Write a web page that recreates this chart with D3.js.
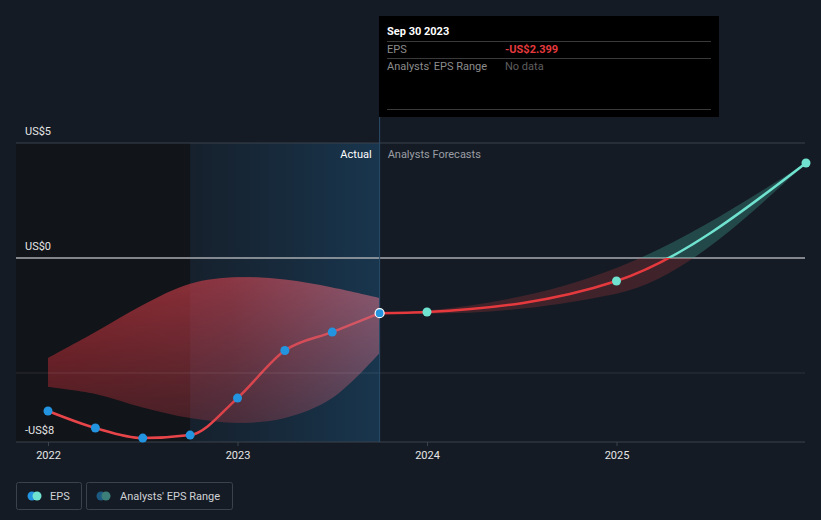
<!DOCTYPE html>
<html><head><meta charset="utf-8">
<script src="https://cdn.jsdelivr.net/npm/d3@7"></script>
<style>
html,body{margin:0;padding:0;background:#151b24;}
svg{display:block;font-family:Roboto,"Open Sans",sans-serif;}
</style></head>
<body><svg id="c" width="821" height="520"></svg>
<script>
// ---- data ----
const pastDates = [2022.0, 2022.25, 2022.5, 2022.75, 2023.0, 2023.25, 2023.5, 2023.75];
const pastEPS   = [-6.65, -7.39, -7.83, -7.70, -6.09, -4.02, -3.22, -2.399];
const pastRangeLow  = [-5.61, -5.91, -6.50, -6.96, -7.17, -6.96, -6.09, -4.13];
const pastRangeHigh = [-4.35, -3.22, -2.04, -1.12, -0.83, -0.94, -1.28, -1.74];
const fcDates = [2023.75, 2024.0, 2025.0, 2026.0];
const fcEPS   = [-2.399, -2.35, -1.0, 4.13];
const fcLow   = [-2.399, -2.42, -1.55, 4.13];
const fcHigh  = [-2.399, -2.28, -0.43, 4.13];
const yTickVals = [5, 0, -8];
const yTickLabels = ["US$5", "US$0", "-US$8"];
const xTickVals = [2022, 2023, 2024, 2025];
const xTickLabels = ["2022", "2023", "2024", "2025"];
const tooltipDate = "Sep 30 2023";
const tooltipEPS = "-US$2.399";
const tooltipRange = "No data";

const svg = d3.select("#c");
const x = d3.scaleLinear().domain([2022, 2026]).range([48, 806]);
const y = d3.scaleLinear().domain([-8, 5]).range([442, 143]);
const left = 16, right = 805;
const nowX = x(2023.75);

const defs = svg.append("defs");
const hl = defs.append("linearGradient").attr("id","hl").attr("x1",0).attr("x2",1).attr("y1",0).attr("y2",0);
hl.append("stop").attr("offset","0%").attr("stop-color","#1f5f8f").attr("stop-opacity",0.08);
hl.append("stop").attr("offset","100%").attr("stop-color","#1f6aa0").attr("stop-opacity",0.34);

// area colour (horizontal hue) + vertical opacity mask
const rg = defs.append("linearGradient").attr("id","rg").attr("x1",0).attr("x2",1).attr("y1",0).attr("y2",0);
rg.append("stop").attr("offset","0%").attr("stop-color","#cc3038");
rg.append("stop").attr("offset","55%").attr("stop-color","#c2404c");
rg.append("stop").attr("offset","100%").attr("stop-color","#c46a80");
const mg = defs.append("linearGradient").attr("id","mg").attr("x1",0).attr("x2",0).attr("y1",0).attr("y2",1);
mg.append("stop").attr("offset","0%").attr("stop-color","#fff").attr("stop-opacity",0.68);
mg.append("stop").attr("offset","100%").attr("stop-color","#fff").attr("stop-opacity",0.3);

// colour split at zero for forecast
const zY = y(0);
const lg = defs.append("linearGradient").attr("id","lg").attr("gradientUnits","userSpaceOnUse")
  .attr("x1",0).attr("x2",0).attr("y1",y(5)).attr("y2",y(-8));
const zf = (zY - y(5)) / (y(-8) - y(5));
lg.append("stop").attr("offset",zf).attr("stop-color","#6fe3cf");
lg.append("stop").attr("offset",zf).attr("stop-color","#e5393d");
const bg = defs.append("linearGradient").attr("id","bg").attr("gradientUnits","userSpaceOnUse")
  .attr("x1",0).attr("x2",0).attr("y1",y(5)).attr("y2",y(-8));
bg.append("stop").attr("offset",zf).attr("stop-color","#3fa89a").attr("stop-opacity",0.32);
bg.append("stop").attr("offset",zf).attr("stop-color","#b8383d").attr("stop-opacity",0.26);

// past dark region
svg.append("rect").attr("x",left).attr("y",y(5)).attr("width",x(2022.75)-left).attr("height",y(-8)-y(5)).attr("fill","#111419");
// highlight
svg.append("rect").attr("x",x(2022.75)).attr("y",y(5)).attr("width",nowX-x(2022.75)).attr("height",y(-8)-y(5)).attr("fill","url(#hl)");

// gridlines
svg.append("line").attr("x1",left).attr("x2",right).attr("y1",y(5)).attr("y2",y(5)).attr("stroke","#3b424c").attr("stroke-width",1);
svg.append("line").attr("x1",left).attr("x2",right).attr("y1",y(-8)).attr("y2",y(-8)).attr("stroke","#3b424c").attr("stroke-width",1);

// y labels
svg.selectAll("text.yl").data(yTickVals).enter().append("text").attr("class","yl")
  .attr("x",25).attr("y",d=>y(d)-8).attr("fill","#e6e6e6").attr("font-size",11)
  .text((d,i)=>yTickLabels[i]);

// x axis
const xa = svg.append("g").attr("transform",`translate(0,${y(-8)})`)
  .call(d3.axisBottom(x).tickValues(xTickVals).tickFormat((d,i)=>xTickLabels[i]).tickSize(4).tickPadding(5));
xa.select(".domain").remove();
xa.selectAll(".tick line").attr("stroke","#3b424c");
xa.selectAll(".tick text").attr("fill","#e6e6e6").attr("font-size",11).attr("font-family","Roboto,sans-serif");

// past range area
const pastAreaGen = d3.area().curve(d3.curveCatmullRom.alpha(0.5)).x(d=>d[0]).y0(d=>d[1]).y1(d=>d[2]);
const area = d3.area().curve(d3.curveMonotoneX).x(d=>d[0]).y0(d=>d[1]).y1(d=>d[2]);
const pastArea = pastDates.map((d,i)=>[x(d), y(pastRangeLow[i]), y(pastRangeHigh[i])]);
const line = d3.line().curve(d3.curveMonotoneX);
const areaD = pastAreaGen(pastArea);
const mask = defs.append("mask").attr("id","am").attr("maskUnits","userSpaceOnUse")
  .attr("x",0).attr("y",0).attr("width",821).attr("height",520);
mask.append("rect").attr("x",x(2022)).attr("y",y(-0.83)).attr("width",nowX-x(2022)).attr("height",y(-7.17)-y(-0.83)).attr("fill","url(#mg)");

// eps past line (under area)
svg.append("path").attr("d", line(pastDates.map((d,i)=>[x(d),y(pastEPS[i])])))
  .attr("fill","none").attr("stroke","#e8454a").attr("stroke-width",2.5);
svg.append("path").attr("d", areaD).attr("fill","url(#rg)").attr("mask","url(#am)");
// -5 gridline over area
svg.append("line").attr("x1",left).attr("x2",right).attr("y1",y(-5)).attr("y2",y(-5)).attr("stroke","#ffffff").attr("stroke-opacity",0.1).attr("stroke-width",1);

// zero line
svg.append("line").attr("x1",left).attr("x2",right).attr("y1",zY).attr("y2",zY).attr("stroke","#a9acb0").attr("stroke-width",1.5);

// forecast band
const fcArea = fcDates.map((d,i)=>[x(d), y(fcLow[i]), y(fcHigh[i])]);
svg.append("path").attr("d", area(fcArea)).attr("fill","url(#bg)");
// forecast line
svg.append("path").attr("d", line(fcDates.map((d,i)=>[x(d),y(fcEPS[i])])))
  .attr("fill","none").attr("stroke","url(#lg)").attr("stroke-width",2.5);

// now line
svg.append("line").attr("x1",nowX).attr("x2",nowX).attr("y1",117).attr("y2",y(-8)).attr("stroke","#2a4d6b").attr("stroke-width",1);

// labels
svg.append("text").attr("x",nowX-8).attr("y",158).attr("text-anchor","end").attr("fill","#ffffff").attr("font-size",11).text("Actual");
svg.append("text").attr("x",nowX+8).attr("y",158).attr("fill","#9a9ea4").attr("font-size",11).text("Analysts Forecasts");

// points
svg.selectAll("circle.p").data(pastDates.slice(0,-1)).enter().append("circle").attr("class","p")
  .attr("cx",d=>x(d)).attr("cy",(d,i)=>y(pastEPS[i])).attr("r",4.5).attr("fill","#2394df");
svg.append("circle").attr("cx",nowX).attr("cy",y(pastEPS[pastEPS.length-1])).attr("r",4.5).attr("fill","#2394df").attr("stroke","#ffffff").attr("stroke-width",1.2);
svg.selectAll("circle.f").data(fcDates.slice(1)).enter().append("circle").attr("class","f")
  .attr("cx",d=>x(d)).attr("cy",(d,i)=>y(fcEPS[i+1])).attr("r",4.5).attr("fill","#6fe3cf");

// tooltip
const tt = svg.append("g");
tt.append("rect").attr("x",379).attr("y",16).attr("width",340).attr("height",101).attr("fill","#000000");
tt.append("text").attr("x",387).attr("y",35).attr("fill","#ffffff").attr("font-size",11).attr("font-weight","bold").text(tooltipDate);
[41,58,109].forEach(v=>tt.append("line").attr("x1",387).attr("x2",711).attr("y1",v+0.5).attr("y2",v+0.5).attr("stroke","#3a3a3a"));
tt.append("text").attr("x",387).attr("y",53).attr("fill","#8c8c8c").attr("font-size",11).text("EPS");
tt.append("text").attr("x",505).attr("y",53).attr("fill","#e5393d").attr("font-size",11).attr("font-weight","bold").text(tooltipEPS);
tt.append("text").attr("x",387).attr("y",70).attr("fill","#8c8c8c").attr("font-size",11).text("Analysts' EPS Range");
tt.append("text").attr("x",505).attr("y",70).attr("fill","#5e5e5e").attr("font-size",11).text(tooltipRange);

// legend
const lgd = svg.append("g");
lgd.append("rect").attr("x",16.5).attr("y",482.5).attr("width",65).attr("height",27).attr("rx",2).attr("fill","none").attr("stroke","#3b424c");
lgd.append("circle").attr("cx",32).attr("cy",496).attr("r",4.5).attr("fill","#2394df");
lgd.append("circle").attr("cx",37).attr("cy",496).attr("r",4.5).attr("fill","#6fe3cf");
lgd.append("text").attr("x",50).attr("y",500).attr("fill","#cfd2d6").attr("font-size",11).text("EPS");
lgd.append("rect").attr("x",86.5).attr("y",482.5).attr("width",146).attr("height",27).attr("rx",2).attr("fill","none").attr("stroke","#3b424c");
lgd.append("circle").attr("cx",101).attr("cy",496).attr("r",4.5).attr("fill","#1d5a82");
lgd.append("circle").attr("cx",106).attr("cy",496).attr("r",4.5).attr("fill","#3c7f7a");
lgd.append("text").attr("x",120).attr("y",500).attr("fill","#cfd2d6").attr("font-size",11).text("Analysts' EPS Range");
</script></body></html>
